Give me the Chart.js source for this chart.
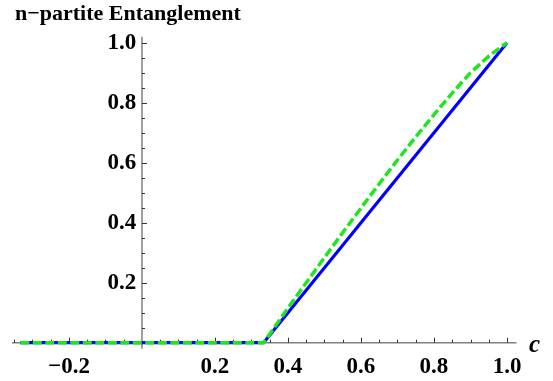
<!DOCTYPE html>
<html>
<head>
<meta charset="utf-8">
<script src="https://cdn.jsdelivr.net/npm/chart.js@4.4.1/dist/chart.umd.min.js"></script>
<style>
  html, body { margin: 0; padding: 0; background: #fff; }
  #wrap { position: relative; width: 553px; height: 381px; }
  #chart { position: absolute; left: 0; top: 0; }
  .lbl { position: absolute; font-family: "Liberation Serif", "Times New Roman", serif; font-weight: bold; white-space: nowrap; color: #000; }
  #title { left: 15px; top: 2px; font-size: 22px; line-height: 22px; }
  #axisC { left: 529px; top: 331px; font-size: 25px; line-height: 25px; font-style: italic; }
</style>
</head>
<body>
<div id="wrap">
  <canvas id="chart" width="553" height="381"></canvas>
  <div class="lbl" id="title">n−partite Entanglement</div>
  <div class="lbl" id="axisC">c</div>
</div>
<script>
// curves
const cBlue = [-0.3333, 0.3333, 1.0];
const eBlue = [0, 0, 1.0];
const cGreen = [-0.3333, 0.3333, 0.375, 0.4, 0.45, 0.5, 0.55, 0.6, 0.65, 0.7, 0.75, 0.8, 0.85, 0.9, 0.95, 1.0];
const eGreen = [0, 0, 0.072, 0.116, 0.200, 0.284, 0.367, 0.449, 0.530, 0.609, 0.686, 0.760, 0.832, 0.900, 0.955, 1.0];

// axes
const xTicks = [-0.35, -0.3, -0.25, -0.2, -0.15, -0.1, -0.05, 0, 0.05, 0.1, 0.15, 0.2, 0.25, 0.3, 0.35, 0.4, 0.45, 0.5, 0.55, 0.6, 0.65, 0.7, 0.75, 0.8, 0.85, 0.9, 0.95, 1.0];
const xMajor = [-0.2, 0.2, 0.4, 0.6, 0.8, 1.0];
const xLabels = ['−0.2', '0.2', '0.4', '0.6', '0.8', '1.0'];
const yTicks = [0, 0.05, 0.1, 0.15, 0.2, 0.25, 0.3, 0.35, 0.4, 0.45, 0.5, 0.55, 0.6, 0.65, 0.7, 0.75, 0.8, 0.85, 0.9, 0.95, 1.0];
const yMajor = [0.2, 0.4, 0.6, 0.8, 1.0];
const yLabels = ['0.2', '0.4', '0.6', '0.8', '1.0'];

const tickFont = { family: '"Liberation Serif", "Times New Roman", serif', size: 23, weight: 'bold' };

function labelFor(v, majors, labels) {
  const i = majors.findIndex(m => Math.abs(m - v) < 1e-9);
  return i < 0 ? '' : labels[i];
}

// Mathematica-style axes through the origin, ticks pointing inward
const crossAxes = {
  id: 'crossAxes',
  beforeDatasetsDraw(chart) {
    const { ctx, scales: { x, y } } = chart;
    const x0 = x.getPixelForValue(0), y0 = y.getPixelForValue(0);
    ctx.save();
    ctx.strokeStyle = '#808080';
    ctx.lineWidth = 1.5;
    ctx.beginPath();
    ctx.moveTo(x.left, y0); ctx.lineTo(x.right, y0);
    ctx.moveTo(x0, y.top); ctx.lineTo(x0, y.bottom);
    ctx.stroke();
    ctx.strokeStyle = '#333';
    ctx.lineWidth = 1;
    ctx.beginPath();
    x.ticks.forEach(t => {
      if (Math.abs(t.value) < 1e-9) return;
      const px = Math.round(x.getPixelForValue(t.value)) + 0.5;
      const len = labelFor(t.value, xMajor, xLabels) ? 5 : 3;
      ctx.moveTo(px, y0); ctx.lineTo(px, y0 - len);
    });
    y.ticks.forEach(t => {
      if (Math.abs(t.value) < 1e-9) return;
      const py = Math.round(y.getPixelForValue(t.value)) + 0.5;
      const len = labelFor(t.value, yMajor, yLabels) ? 5 : 3;
      ctx.moveTo(x0, py); ctx.lineTo(x0 + len, py);
    });
    ctx.stroke();
    ctx.restore();
  }
};

new Chart(document.getElementById('chart'), {
  type: 'line',
  data: {
    datasets: [
      {
        label: 'green',
        data: cGreen.map((c, i) => ({ x: c, y: eGreen[i] })),
        borderColor: '#1ee61e',
        borderWidth: 3.5,
        borderDash: [9, 3.5],
        pointRadius: 0,
        fill: false,
        tension: 0,
        order: 0
      },
      {
        label: 'blue',
        data: cBlue.map((c, i) => ({ x: c, y: eBlue[i] })),
        borderColor: '#0000ff',
        borderWidth: 3.2,
        pointRadius: 0,
        fill: false,
        tension: 0,
        order: 1
      }
    ]
  },
  options: {
    responsive: false,
    animation: false,
    devicePixelRatio: 1,
    layout: { padding: { left: 12, right: 36.5, top: 36.7, bottom: 32.3 } },
    plugins: { legend: { display: false }, tooltip: { enabled: false }, title: { display: false } },
    scales: {
      x: {
        type: 'linear',
        min: -0.356, max: 1.026,
        position: { y: 0 },
        grid: { display: false, drawTicks: false },
        border: { display: false },
        afterBuildTicks: s => { s.ticks = xTicks.map(v => ({ value: v })); },
        ticks: { autoSkip: false, maxRotation: 0, padding: 11, color: '#000', font: tickFont,
          callback: v => labelFor(v, xMajor, xLabels) }
      },
      y: {
        type: 'linear',
        min: -0.02, max: 1.02,
        position: { x: 0 },
        grid: { display: false, drawTicks: false },
        border: { display: false },
        afterBuildTicks: s => { s.ticks = yTicks.map(v => ({ value: v })); },
        ticks: { autoSkip: false, padding: 6, color: '#000', font: tickFont,
          // trailing space keeps the label clear of the axis line
          callback: v => { const l = labelFor(v, yMajor, yLabels); return l ? l + ' ' : ''; } }
      }
    }
  },
  plugins: [crossAxes]
});
</script>
</body>
</html>
